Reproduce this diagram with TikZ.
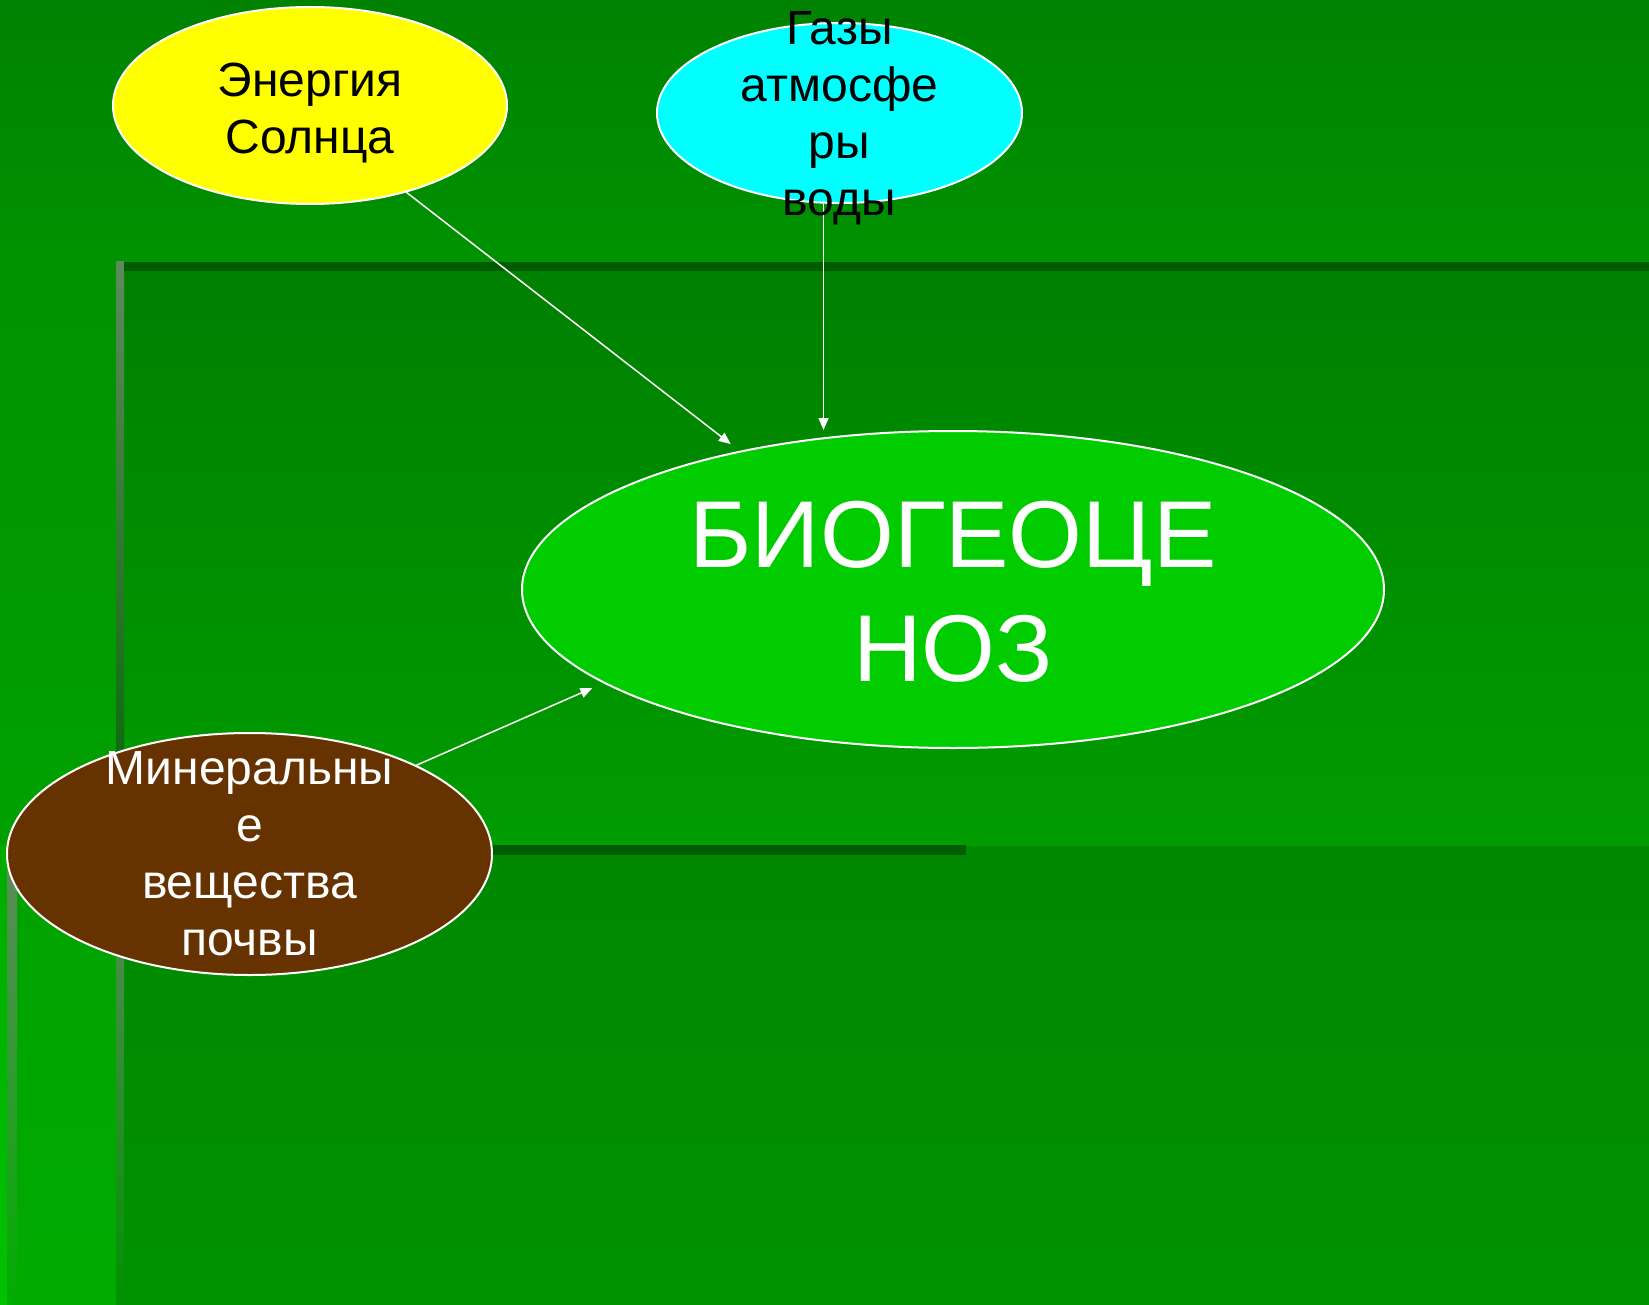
\documentclass[tikz,border=0pt]{standalone}
\usepackage{fontspec}
\setmainfont{Liberation Sans}
\usetikzlibrary{shapes.geometric,arrows.meta}
\definecolor{bgtop}{HTML}{008200}
\definecolor{bgmid}{HTML}{009200}
\definecolor{bgleft}{HTML}{00AC00}
\definecolor{bgedge}{HTML}{00C200}
\definecolor{paneltop}{HTML}{008000}
\definecolor{panelmid}{HTML}{008700}
\definecolor{panelbot}{HTML}{009C00}
\definecolor{lowtop}{HTML}{008800}
\definecolor{lowbot}{HTML}{009200}
\definecolor{edgedark}{HTML}{005C00}
\definecolor{bargrey}{HTML}{5E8A5E}
\definecolor{sunyellow}{HTML}{FFFF00}
\definecolor{gascyan}{HTML}{00FFFF}
\definecolor{biogreen}{HTML}{00CC00}
\definecolor{soilbrown}{HTML}{663300}

\begin{document}
\begin{tikzpicture}[x=0.5pt,y=-0.5pt,
		blob/.style={ellipse,draw=white,line width=1pt,inner sep=0pt},
		txt/.style={align=center,inner sep=0pt,font=\fontsize{24}{28.5}\selectfont},
		bigtxt/.style={align=center,inner sep=0pt,text=white,font=\fontsize{47.5}{57}\selectfont},
		arr/.style={white,line width=0.75pt,-{Triangle[length=6pt,width=5pt]}}]
	\useasboundingbox (0,0) rectangle (1649,1305);
	% background
	\shade[top color=bgtop,bottom color=bgmid] (0,0) rectangle (1649,262);
	\shade[top color=bgmid,bottom color=bgleft] (0,262) rectangle (116,1305);
	\shade[top color=bgleft,bottom color=bgedge] (0,846) rectangle (7,1305);
	\shade[top color=paneltop,middle color=panelmid,bottom color=panelbot] (124,271) rectangle (1649,846);
	\shade[top color=lowtop,bottom color=lowbot] (124,846) rectangle (1649,1305);
	\shade[top color=bargrey,bottom color=green!40!black] (116,262) rectangle (124,846);
	\shade[top color=bargrey,bottom color=lowbot] (116,846) rectangle (124,1305);
	\shade[top color=bargrey,bottom color=bgleft] (7,846) rectangle (17,1305);
	\fill[edgedark] (124,262) rectangle (1649,271);
	\fill[edgedark] (400,845) rectangle (966,855);
	%
	\node[blob,fill=sunyellow,minimum width=197pt,minimum height=98.5pt] (sun) at (310,105.5) {};
	\node[blob,fill=gascyan,minimum width=182.5pt,minimum height=90pt] (gas) at (839.5,113) {};
	\node[blob,fill=biogreen,minimum width=431pt,minimum height=158.5pt] (bio) at (953,589.5) {};
	\node[blob,fill=soilbrown,minimum width=242.5pt,minimum height=121pt] (soil) at (249.5,854) {};
	%
	\draw[arr,shorten >=5.5pt] (sun.-42) -- (bio.147);
	\draw[arr] (gas.-100) -- (gas.-100 |- bio.north);
	\draw[arr,shorten >=6pt] (soil.28) -- (bio.195);
	%
	\node[txt] (sun-txt) at (310,113) {Энергия\\Солнца};
	\node[txt] (gas-txt) at (839.5,118) {Газы\\атмосфе\\ры\\воды};
	\node[bigtxt] (bio-txt) at (953,592) {БИОГЕОЦЕ\\НОЗ};
	\node[txt,text=white] (soil-txt) at (soil) {Минеральны\\е\\вещества\\почвы};
\end{tikzpicture}
\end{document}
